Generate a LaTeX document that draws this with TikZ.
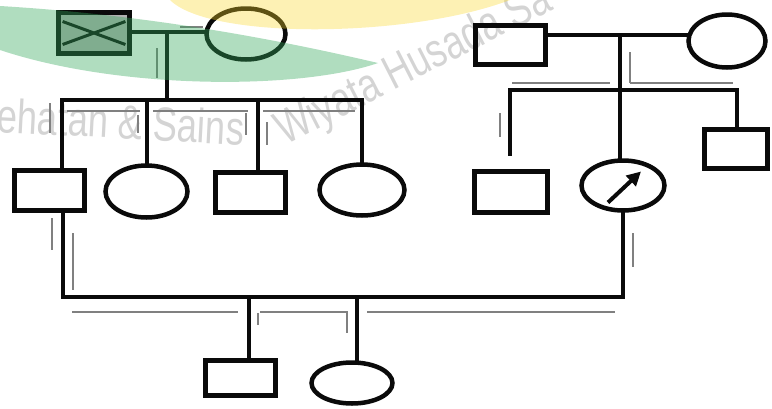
\documentclass[tikz,border=0pt]{standalone}
\usepackage{fontspec}
\newfontfamily\wmfont{Liberation Sans}
\usetikzlibrary{arrows.meta,positioning,shapes.geometric}
\definecolor{ink}{RGB}{10,10,10}
\definecolor{wmgreen}{RGB}{51,167,90}
\definecolor{wmyellow}{RGB}{250,215,40}
\definecolor{wmgray}{RGB}{212,212,212}

\begin{document}
\begin{tikzpicture}[x=1pt,y=-1pt,line width=4.5pt,line cap=rect,
    male/.style={draw=ink,rectangle,inner sep=0pt},
    female/.style={draw=ink,ellipse,inner sep=0pt},
    ghost/.style={line width=1.1pt,line cap=butt,black!50},
    wmtext/.style={text=wmgray,inner sep=0pt,anchor=base west,
      font=\wmfont\fontsize{48}{48}\selectfont}]
    \useasboundingbox (0,0) rectangle (772,408);
    \clip (0,0) rectangle (772,408);
    \node[wmtext,rotate=-3] (wm1) at (-6,132)
      {\scalebox{0.76}[1]{ehatan \& Sains}};
    \node[wmtext,rotate=27] (wm2) at (283,147)
      {\scalebox{0.76}[1]{Wiyata Husada Sa}};

    \node[male,fill=black!30,minimum width=71pt,minimum height=41pt] (gp1) at (94,33) {};
    \node[female,minimum width=79pt,minimum height=51pt] (gm1) at (246,34) {};
    \node[male,minimum width=70pt,minimum height=39pt] (gp2) at (510.5,45) {};
    \node[female,minimum width=77pt,minimum height=53pt] (gm2) at (727,41) {};

    \node[male,minimum width=70pt,minimum height=40pt] (s1) at (49.5,190.5) {};
    \node[female,minimum width=82pt,minimum height=52pt] (d1) at (146.5,191.5) {};
    \node[male,minimum width=70pt,minimum height=40pt] (s2) at (250.5,192.5) {};
    \node[female,minimum width=85pt,minimum height=51pt] (d2) at (362,190) {};
    \node[male,minimum width=73pt,minimum height=41pt] (s3) at (511,192) {};
    \node[female,minimum width=83pt,minimum height=50pt] (d3) at (623,185.5) {};
    \node[male,minimum width=63pt,minimum height=39pt] (s4) at (736,149) {};

    \node[male,minimum width=70pt,minimum height=35pt] (s5) at (240.5,378) {};
    \node[female,minimum width=81pt,minimum height=41pt] (d4) at (352,383) {};

    \coordinate (m1) at (167,32);
    \coordinate (a1) at (62,100);
    \coordinate (a2) at (147,100);
    \coordinate (a3) at (258,100);
    \coordinate (a4) at (362,100);
    \coordinate (m2) at (620,35);
    \coordinate (b1) at (510,90);
    \coordinate (b2) at (620,90);
    \coordinate (b3) at (737,90);
    \coordinate (c1) at (63,297);
    \coordinate (c2) at (623,297);
    \coordinate (c3) at (249,297);
    \coordinate (c4) at (357,297);

    \draw[ghost] (180,27) -- (203,27) (157,48) -- (157,78);
    \draw[ghost] (67,111) -- (140,111) (153,111) -- (248,111)
      (263,111) -- (355,111);
    \draw[ghost] (50,103) -- (50,133) (138,115) -- (138,133)
      (246,113) -- (246,135) (267,122) -- (267,145);
    \draw[ghost] (512,83) -- (610,83) (630,83) -- (733,83)
      (630,52) -- (630,83) (500,113) -- (500,137);
    \draw[ghost] (52,218) -- (52,250) (73,233) -- (73,290)
      (633,233) -- (633,267);
    \draw[ghost] (72,312) -- (238,312) (260,312) -- (348,312)
      (367,312) -- (615,312) (258,313) -- (258,325) (347,313) -- (347,333);

    \draw[ink,line width=3pt] ([shift={(-30,-11)}]gp1.center)
      -- ([shift={(30,11)}]gp1.center)
      ([shift={(-30,11)}]gp1.center) -- ([shift={(30,-11)}]gp1.center);
    \draw[ink] (gp1.east |- m1) -- (m1 -| gm1.west);
    \draw[ink] (m1) -- (m1 |- a1);
    \draw[ink] (a1) -- (a4);
    \draw[ink] (a1) -- (a1 |- s1.north);
    \draw[ink] (a2) -- (a2 |- d1.north);
    \draw[ink] (a3) -- (a3 |- s2.north);
    \draw[ink] (a4) -- (a4 |- d2.north);

    \draw[ink] (gp2.east |- m2) -- (m2 -| gm2.west);
    \draw[ink] (m2) -- (b2);
    \draw[ink] (b1) -- (b3);
    \draw[ink,shorten >=16pt] (b1) -- (b1 |- s3.north);
    \draw[ink] (b2) -- (b2 |- d3.north);
    \draw[ink] (b3) -- (b3 |- s4.north);
    \draw[ink,line width=4pt,line cap=butt,-{Triangle[length=14pt,width=14pt]}]
      ([shift={(-15,17)}]d3.center) -- ([shift={(18,-14)}]d3.center);

    \draw[ink] (c1 |- s1.south) -- (c1) -- (c2) -- (c2 |- d3.south);
    \draw[ink] (c3) -- (c3 |- s5.north);
    \draw[ink] (c4) -- (c4 |- d4.north);

    \fill[wmgreen,fill opacity=0.39] (0,6) .. controls (150,15) and (280,40)
      .. (378,63) .. controls (300,90) and (120,90) .. (0,50) -- cycle;
    \fill[wmyellow,fill opacity=0.35] (170,0) .. controls (210,40) and (410,38)
      .. (510,0) -- cycle;
\end{tikzpicture}
\end{document}
